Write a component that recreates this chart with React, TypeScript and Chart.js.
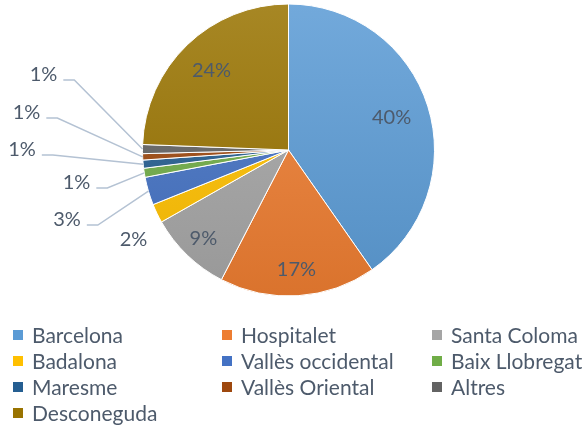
import React, { useEffect, useRef } from "react";
import { Chart, registerables } from "chart.js";

Chart.register(...registerables);

const categories = [
  "Barcelona",
  "Hospitalet",
  "Santa Coloma",
  "Badalona",
  "Vallès occidental",
  "Baix Llobregat",
  "Maresme",
  "Vallès Oriental",
  "Altres",
  "Desconeguda",
];
const values = [40.3, 17.3, 9.2, 2.1, 3.1, 1.0, 0.9, 0.7, 1.0, 24.4];
const percentLabels = ["40%", "17%", "9%", "2%", "3%", "1%", "1%", "1%", "1%", "24%"];
const colors = [
  "#5B9BD5",
  "#ED7D31",
  "#A5A5A5",
  "#FFC000",
  "#4472C4",
  "#70AD47",
  "#255E91",
  "#9E480E",
  "#636363",
  "#997300",
];

// label placement (style): inside radius fraction, or outside offset from center
const insideRadius: Record<number, number> = { 0: 0.74, 1: 0.82, 2: 0.84, 9: 0.76 };
const outsideOffset: Record<number, [number, number, boolean]> = {
  3: [-155, 90, false],
  4: [-221.5, 70, true],
  5: [-212, 33, true],
  6: [-266.5, 0, true],
  7: [-262, -37, true],
  8: [-245, -75, true],
};

const TEXT_COLOR = "#4d5a6b";
const FONT = "Lato, 'Open Sans', sans-serif";

function shade(hex: string, amt: number) {
  const n = parseInt(hex.slice(1), 16);
  const r = n >> 16, g = (n >> 8) & 255, b = n & 255;
  const f = (c: number) => (amt >= 0 ? Math.round(c + (255 - c) * amt) : Math.round(c * (1 + amt)));
  return `rgb(${f(r)},${f(g)},${f(b)})`;
}

const labelPlugin = {
  id: "pieLabels",
  afterDatasetsDraw(chart: any) {
    const ctx = chart.ctx;
    const meta = chart.getDatasetMeta(0);
    ctx.save();
    ctx.font = `20px ${FONT}`;
    ctx.fillStyle = TEXT_COLOR;
    ctx.textBaseline = "middle";
    ctx.textAlign = "center";
    meta.data.forEach((arc: any, i: number) => {
      const p = arc.getProps(["x", "y", "startAngle", "endAngle", "outerRadius"], true);
      const mid = (p.startAngle + p.endAngle) / 2;
      if (outsideOffset[i]) {
        const [dx, dy, line] = outsideOffset[i];
        const lx = p.x + dx;
        const ly = p.y + dy;
        ctx.fillStyle = TEXT_COLOR;
        ctx.fillText(percentLabels[i], lx, ly);
        if (line) {
          const w = ctx.measureText(percentLabels[i]).width;
          const sx = lx + w / 2 + 6;
          const sy = ly + 5;
          const ex = p.x + Math.cos(mid) * p.outerRadius;
          const ey = p.y + Math.sin(mid) * p.outerRadius;
          ctx.strokeStyle = "#b4c2d3";
          ctx.lineWidth = 1.5;
          ctx.beginPath();
          ctx.moveTo(sx, sy);
          ctx.lineTo(sx + 11, sy);
          ctx.lineTo(ex, ey);
          ctx.stroke();
        }
      } else {
        const r = p.outerRadius * (insideRadius[i] ?? 0.75);
        ctx.fillText(percentLabels[i], p.x + Math.cos(mid) * r, p.y + Math.sin(mid) * r);
      }
    });
    // legend in 3 columns
    const colX = [13, 222, 432];
    const rowY = [335, 361, 387, 413];
    ctx.font = `21px ${FONT}`;
    ctx.textAlign = "left";
    categories.forEach((name, i) => {
      const col = i % 3;
      const row = Math.floor(i / 3);
      const x = colX[col];
      const y = rowY[row];
      ctx.fillStyle = colors[i];
      ctx.fillRect(x, y - 5, 10, 10);
      ctx.fillStyle = TEXT_COLOR;
      ctx.fillText(name, x + 19, y + 1);
    });
    ctx.restore();
  },
};

export default function App() {
  const ref = useRef<HTMLCanvasElement>(null);
  useEffect(() => {
    if (!ref.current) return;
    const chart = new Chart(ref.current, {
      type: "pie",
      data: {
        labels: categories,
        datasets: [
          {
            data: values,
            backgroundColor: (c: any) => {
              const base = colors[c.dataIndex];
              const area = c.chart.chartArea;
              if (!area) return base;
              const g = c.chart.ctx.createLinearGradient(0, area.top, 0, area.bottom);
              g.addColorStop(0, shade(base, 0.14));
              g.addColorStop(1, shade(base, -0.08));
              return g;
            },
            borderColor: "#ffffff",
            borderWidth: 1,
            hoverOffset: 0,
            offset: 0,
          },
        ],
      },
      options: {
        responsive: false,
        animation: false,
        layout: { padding: { left: 142, right: 150, top: 3.5, bottom: 129.5 } },
        plugins: { legend: { display: false }, tooltip: { enabled: false } },
      },
      plugins: [labelPlugin],
    });
    return () => chart.destroy();
  }, []);
  return (
    <div style={{ position: "fixed", left: 0, top: 0, width: 585, height: 426, background: "#fff" }}>
      <canvas ref={ref} width={585} height={426} />
    </div>
  );
}
